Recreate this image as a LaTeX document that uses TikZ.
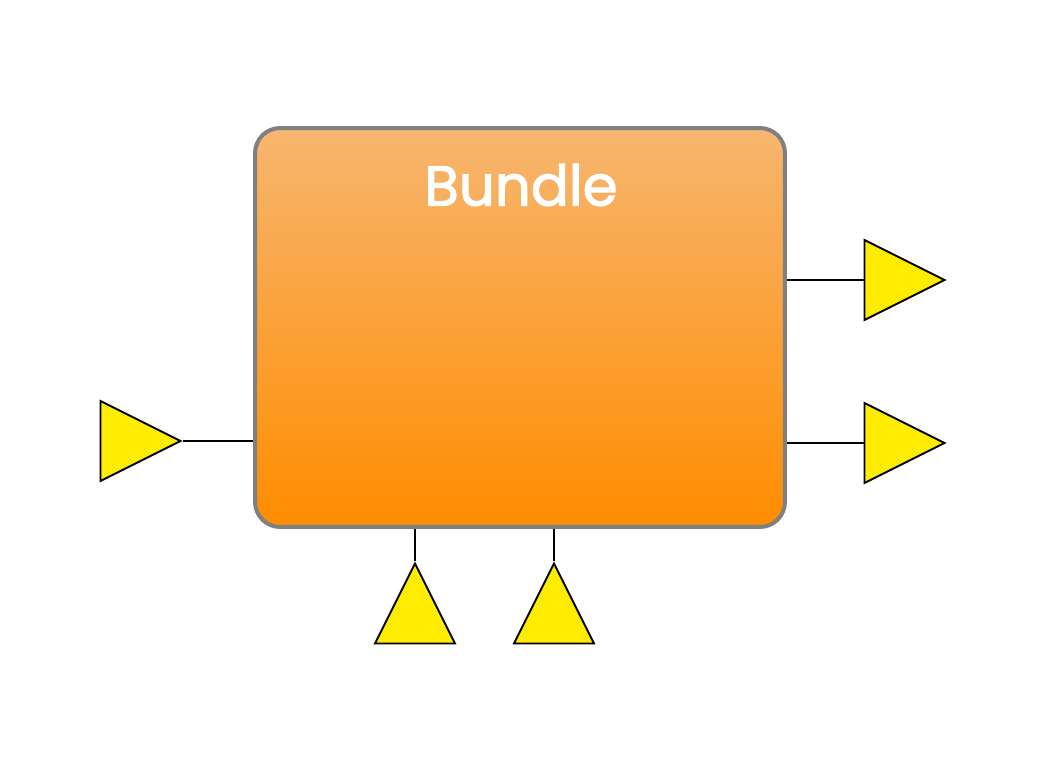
\documentclass[tikz,border=0pt]{standalone}
\usepackage{fontspec}
\setmainfont{Poppins}
\newfontfamily\titlefont[FakeBold=2]{Poppins}
\usepackage{tikz}
\usetikzlibrary{shapes.geometric}
\usetikzlibrary{positioning}
\usetikzlibrary{shadows}
\definecolor{boxtop}{RGB}{247,182,112}
\definecolor{boxbot}{RGB}{255,140,0}
\definecolor{boxline}{RGB}{128,128,128}
\definecolor{portfill}{RGB}{255,236,0}
\tikzstyle{bundle}=[draw=boxline,line width=2.3pt,rounded corners=0.5cm,top color=boxtop,bottom color=boxbot,minimum width=10.6cm,minimum height=7.98cm,inner sep=0pt,drop shadow={opacity=0.25,shadow xshift=0.5pt,shadow yshift=-0.5pt}]
\tikzstyle{port}=[draw=black,line width=1.1pt,fill=portfill,isosceles triangle,isosceles triangle stretches,minimum width=1.6cm,minimum height=1.6cm,inner sep=0pt,anchor=apex]

\begin{document}
\begin{tikzpicture}[x=0.02cm,y=-0.02cm,wire/.style={draw=black,line width=0.8pt}]
\useasboundingbox (0,0) rectangle (1050,768);
\node [bundle] (b) at (520,327.5) {};
\node [white,font=\titlefont\fontsize{32}{38}\selectfont] (t) at (521,185) {Bundle};
% ports
\node [port] (in) at (183,441) {};
\node [port] (o1) at (947,280) {};
\node [port] (o2) at (947,443) {};
\node [port,shape border rotate=90] (d1) at (415,561) {};
\node [port,shape border rotate=90] (d2) at (554,561) {};
\draw [wire] (in.apex) -- (in.apex -| b.west);
\draw [wire] (o1.west) -- (o1.west -| b.east);
\draw [wire] (o2.west) -- (o2.west -| b.east);
\draw [wire] (d1.apex) -- (d1.apex |- b.south);
\draw [wire] (d2.apex) -- (d2.apex |- b.south);
\end{tikzpicture}
\end{document}
